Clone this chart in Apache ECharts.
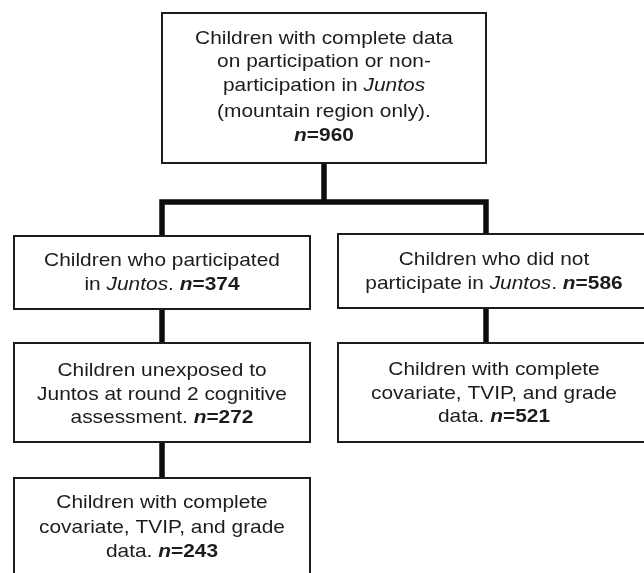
<!DOCTYPE html>
<html>
<head>
<meta charset="utf-8">
<script src="https://cdn.jsdelivr.net/npm/echarts@6/dist/echarts.min.js"></script>
<style>html,body{margin:0;padding:0;background:#fff}#c{width:644px;height:573px}</style>
</head>
<body>
<div id="c"></div>
<script>
// ---- data ----
const counts = [960, 374, 272, 243, 586, 521];
const boxTexts = [
  ["Children with complete data", "on participation or non-", "participation in {i|Juntos}", "(mountain region only).", "{bi|n}{b|=" + counts[0] + "}"],
  ["Children who participated", "in {i|Juntos}. {bi|n}{b|=" + counts[1] + "}"],
  ["Children unexposed to", "Juntos at round 2 cognitive", "assessment. {bi|n}{b|=" + counts[2] + "}"],
  ["Children with complete", "covariate, TVIP, and grade", "data. {bi|n}{b|=" + counts[3] + "}"],
  ["Children who did not", "participate in {i|Juntos}. {bi|n}{b|=" + counts[4] + "}"],
  ["Children with complete", "covariate, TVIP, and grade", "data. {bi|n}{b|=" + counts[5] + "}"]
];

// ---- layout (canvas units) ----
const boxRects = [
  [162, 13, 486, 163],
  [14, 236, 310, 309],
  [14, 343, 310, 442],
  [14, 478, 310, 585],
  [338, 234, 650, 308],
  [338, 343, 650, 442]
];
const lineCenters = [
  [39, 62, 86, 112, 136],
  [261, 285],
  [371, 395, 418],
  [503, 528, 552],
  [260, 284],
  [370, 394, 417]
];
const textCenterX = [324, 162, 162, 162, 494, 494];
const connectors = [
  [[324, 163], [324, 202]],
  [[162, 236], [162, 202], [486, 202], [486, 234]],
  [[162, 309], [162, 343]],
  [[162, 442], [162, 478]],
  [[486, 308], [486, 343]]
];

const FONT = '"Liberation Sans", Arial, Helvetica, sans-serif';
const FS = 19;
const INK = '#1c1c1c';
const rich = {
  i: {fontStyle: 'italic', fontSize: FS, fontFamily: FONT, fill: INK},
  bi: {fontStyle: 'italic', fontWeight: 'bold', fontSize: FS, fontFamily: FONT, fill: INK},
  b: {fontWeight: 'bold', fontSize: FS, fontFamily: FONT, fill: INK}
};

const chart = echarts.init(document.getElementById('c'), null, {renderer: 'canvas'});

const boxData = boxRects.map((r, k) => [r[0], r[1], r[2], r[3], k]);
const connData = connectors.map((c, k) => [k]);

chart.setOption({
  animation: false,
  backgroundColor: '#ffffff',
  grid: {left: 0, right: 0, top: 0, bottom: 0},
  xAxis: {type: 'value', min: 0, max: 644, show: false},
  yAxis: {type: 'value', min: 0, max: 573, inverse: true, show: false},
  series: [
    {
      type: 'custom',
      data: connData,
      z: 1,
      renderItem: function (params, api) {
        const k = api.value(0);
        const pts = connectors[k].map(p => api.coord(p));
        return {
          type: 'polyline',
          shape: {points: pts},
          style: {stroke: '#0d0d0d', lineWidth: 5.5, fill: null, lineJoin: 'miter', lineCap: 'butt'}
        };
      }
    },
    {
      type: 'custom',
      data: boxData,
      z: 2,
      renderItem: function (params, api) {
        const p0 = api.coord([api.value(0), api.value(1)]);
        const p1 = api.coord([api.value(2), api.value(3)]);
        const k = api.value(4);
        const children = [{
          type: 'rect',
          shape: {x: p0[0], y: p0[1], width: p1[0] - p0[0], height: p1[1] - p0[1]},
          style: {fill: '#ffffff', stroke: INK, lineWidth: 2}
        }];
        boxTexts[k].forEach((t, j) => {
          const c = api.coord([textCenterX[k], lineCenters[k][j]]);
          children.push({
            type: 'text',
            x: c[0], y: c[1],
            scaleX: 1.1,
            style: {
              text: t, x: 0, y: 0,
              align: 'center', verticalAlign: 'middle',
              fontSize: FS, fontFamily: FONT, fill: INK,
              rich: rich
            }
          });
        });
        return {type: 'group', children: children};
      }
    }
  ]
});
</script>
</body>
</html>
